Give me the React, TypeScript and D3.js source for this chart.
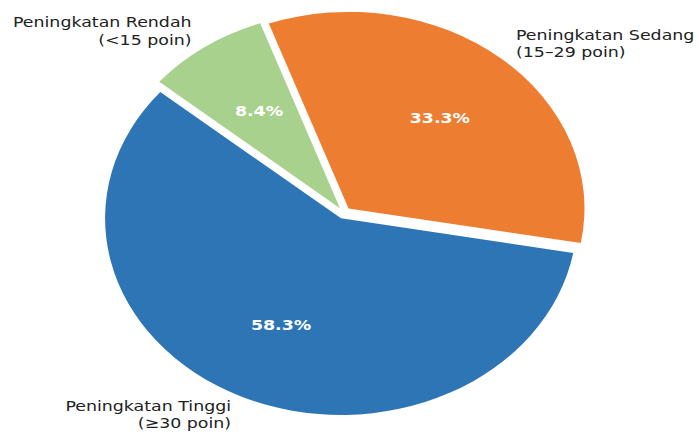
import * as d3 from "d3";

// data
const categories = ["Peningkatan Tinggi", "Peningkatan Sedang", "Peningkatan Rendah"];
const subLabels = ["(≥30 poin)", "(15–29 poin)", "(<15 poin)"];
const shares = [58.3, 33.3, 8.4];
const colors = ["#2E75B6", "#ED7D31", "#A9D18E"];

const W = 699;
const H = 432;

export default function App() {
  // the picture is stretched sideways, so draw a circle and scale x
  const r = 196.6;
  const kx = 1.2;
  const cx = 344;
  const cy = 213;
  const explode = 0.03;
  const fs = 14.5;

  const start = Math.PI / 2 - (140 * Math.PI) / 180;
  const pie = d3
    .pie<number>()
    .sort(null)
    .value((d) => d)
    .startAngle(start)
    .endAngle(start - 2 * Math.PI);
  const arcs = pie(shares);
  const arcGen = d3.arc<d3.PieArcDatum<number>>().innerRadius(0).outerRadius(r);

  const mid = (a: d3.PieArcDatum<number>) => (a.startAngle + a.endAngle) / 2;
  const pt = (a: d3.PieArcDatum<number>, k: number) => [
    Math.sin(mid(a)) * r * k,
    -Math.cos(mid(a)) * r * k,
  ];

  return (
    <svg width={W} height={H} style={{ position: "absolute", left: 0, top: 0 }}>
      <rect width={W} height={H} fill="#fff" />
      <g transform={`translate(${cx},${cy}) scale(${kx},1)`}>
        {arcs.map((a, i) => {
          const [ox, oy] = pt(a, explode);
          return (
            <path key={"s" + i} d={arcGen(a) ?? ""} fill={colors[i]} transform={`translate(${ox},${oy})`} />
          );
        })}
        {arcs.map((a, i) => {
          const [px, py] = pt(a, explode + 0.6);
          return (
            <text
              key={"p" + i}
              x={px}
              y={py}
              textAnchor="middle"
              dominantBaseline="central"
              fill="#fff"
              fontWeight="bold"
              fontSize={fs}
              fontFamily="DejaVu Sans"
            >
              {shares[i].toFixed(1) + "%"}
            </text>
          );
        })}
        {arcs.map((a, i) => {
          const [lx, ly] = pt(a, explode + 1.1);
          const anchor = lx < 0 ? "end" : "start";
          return (
            <text
              key={"l" + i}
              textAnchor={anchor}
              dominantBaseline="central"
              fill="#222"
              fontSize={fs}
              fontFamily="DejaVu Sans"
            >
              <tspan x={lx} y={ly - fs * 0.6}>{categories[i]}</tspan>
              <tspan x={lx} y={ly + fs * 0.6}>{subLabels[i]}</tspan>
            </text>
          );
        })}
      </g>
    </svg>
  );
}
